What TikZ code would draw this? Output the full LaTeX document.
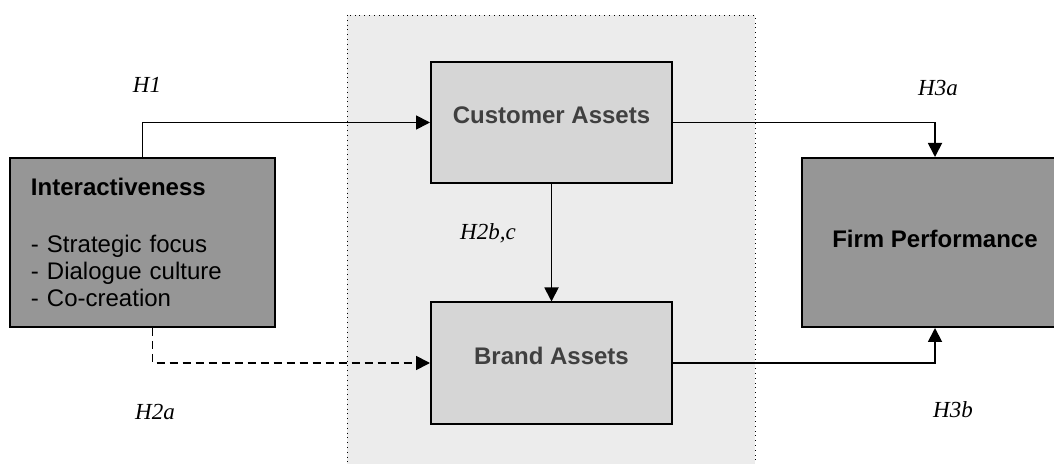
\documentclass[tikz,border=0pt]{standalone}
\usepackage{fontspec}
\setmainfont{Liberation Sans}
\newfontfamily\timesfont{Liberation Serif}
\usetikzlibrary{arrows.meta}
\definecolor{darkfill}{RGB}{150,150,150}
\definecolor{lightfill}{RGB}{214,214,214}
\definecolor{panelfill}{RGB}{236,236,236}
\definecolor{assettext}{RGB}{64,64,64}
\tikzset{
  darkbox/.style={draw, line width=1pt, fill=darkfill, inner xsep=10.5pt},
  lightbox/.style={draw, line width=1pt, fill=lightfill, text=assettext,
    font=\fontsize{12}{13.5}\selectfont\bfseries, text depth=7pt,
    minimum width=120.5pt, minimum height=60.5pt},
  hyp/.style={font=\timesfont\itshape\fontsize{11.5}{13}\selectfont},
  arr/.style={line width=0.9pt, -{Triangle[length=7pt,width=7pt]}}
}
\begin{document}
\begin{tikzpicture}[x=0.5pt,y=-0.5pt,font=\fontsize{12}{13.5}\selectfont]
    \useasboundingbox (0,0) rectangle (1054,464);
    \clip (0,0) rectangle (1054,464);
    \draw[dotted, fill=panelfill] (347,15) rectangle (755,480);

    \node[darkbox, minimum width=132.5pt, minimum height=84.5pt, text width=111.5pt, align=left] (inter) at (142.5,242.5)
        {\textbf{Interactiveness}\\[15pt]- Strategic focus\\- Dialogue culture\\- Co-creation\\[2pt]};
    \node[lightbox] (cust) at (551.5,122.5) {Customer Assets};
    \node[lightbox] (brand) at (551.5,363) {Brand Assets};
    \node[darkbox, minimum width=133pt, minimum height=84.5pt, text depth=4pt, font=\fontsize{12}{13.5}\selectfont\bfseries] (firm) at (935,242.5) {Firm Performance};

    \draw[arr] (inter.north) |- (cust.west);
    \draw[arr, dash pattern=on 4pt off 2.5pt] ([xshift=5pt]inter.south) |- (brand.west);
    \draw[arr] (cust.south) -- (brand.north);
    \draw[arr] (cust.east) -| (firm.north);
    \draw[arr] (brand.east) -| (firm.south);

    \node[hyp] (h1) at (147,85) {H1};
    \node[hyp] (h2a) at (155,412) {H2a};
    \node[hyp] (h2bc) at (488,233) {H2b,c};
    \node[hyp] (h3a) at (938,88) {H3a};
    \node[hyp] (h3b) at (953,410) {H3b};
\end{tikzpicture}
\end{document}
